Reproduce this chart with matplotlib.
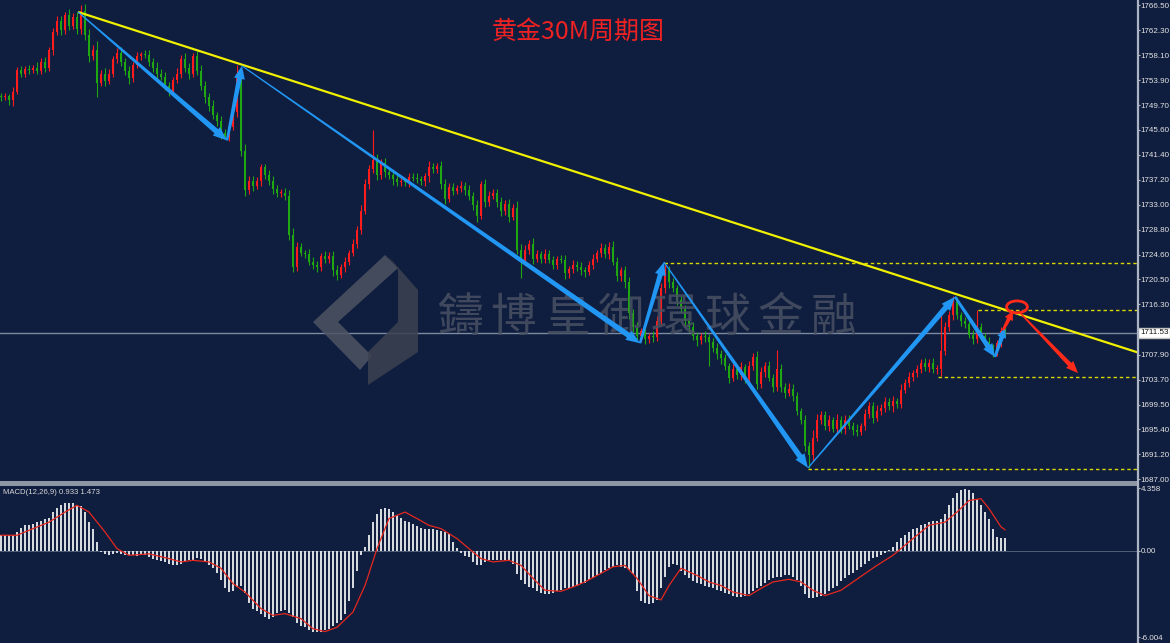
import numpy as np
import matplotlib
matplotlib.use("Agg")
import matplotlib.pyplot as plt
from matplotlib.patches import Polygon, Ellipse, Rectangle
from matplotlib.transforms import IdentityTransform

plt.rcParams['font.family'] = ['DejaVu Sans']
NARROW = ['Liberation Sans', 'DejaVu Sans']

# ---------------- data ----------------
closes = [
    1751.0, 1751.2, 1750.5, 1752.0, 1755.6, 1755.0, 1755.8, 1755.6, 1756.0, 1755.5,
    1757.0, 1756.0, 1759.0, 1762.0, 1763.8, 1762.3, 1764.8, 1763.0, 1764.5, 1762.5,
    1765.5, 1761.5, 1758.0, 1759.0, 1753.5, 1755.0, 1753.8, 1755.0, 1757.5, 1758.5,
    1757.0, 1755.5, 1754.2, 1756.5, 1758.0, 1758.3, 1758.2, 1757.0, 1756.0, 1755.0,
    1754.5, 1753.0, 1752.0, 1754.0, 1755.0, 1757.5, 1756.0, 1755.0, 1758.0, 1755.5,
    1753.0, 1751.0, 1749.5, 1748.0, 1747.0, 1745.0, 1744.3, 1746.0, 1748.5, 1755.0,
    1742.0, 1735.5, 1737.0, 1736.2, 1737.0, 1739.3, 1738.0, 1737.0, 1735.7, 1735.0,
    1735.0, 1734.5, 1728.0, 1722.5, 1726.0, 1725.0, 1724.8, 1723.5, 1723.0, 1722.5,
    1724.5, 1724.0, 1724.5, 1722.0, 1721.3, 1722.5, 1723.5, 1725.0, 1726.5, 1728.8,
    1732.0, 1736.5, 1739.0, 1740.5, 1738.0, 1740.0, 1738.5, 1738.0, 1737.3, 1736.8,
    1737.0, 1736.8, 1737.7, 1737.5, 1737.3, 1737.0, 1737.8, 1739.4, 1739.0, 1739.5,
    1736.5, 1734.0, 1736.0, 1735.3, 1735.8, 1736.2, 1735.5, 1734.5, 1733.0, 1731.2,
    1736.5, 1733.5, 1734.5, 1735.0, 1733.5, 1732.0, 1733.2, 1731.0, 1732.5, 1725.5,
    1723.8, 1725.5, 1726.5, 1724.0, 1724.8, 1724.0, 1724.8, 1723.8, 1723.0, 1724.0,
    1723.8, 1721.5, 1722.3, 1723.0, 1722.5, 1722.0, 1721.8, 1723.0, 1724.0, 1725.0,
    1725.8, 1724.8, 1726.0, 1723.5, 1721.0, 1722.0, 1720.0, 1714.9, 1712.5, 1711.0,
    1711.8, 1710.5, 1711.0, 1710.8, 1713.5, 1719.0, 1722.0, 1720.0, 1719.0, 1717.0,
    1715.5, 1713.5, 1712.5, 1711.0, 1710.3, 1711.0, 1710.8, 1710.0, 1709.0, 1708.0,
    1707.3, 1706.0, 1704.0, 1705.5, 1704.5, 1705.8, 1703.8, 1706.0, 1707.5, 1703.0,
    1705.0, 1706.0, 1704.0, 1702.5, 1705.5, 1702.5, 1701.5, 1702.2, 1701.0, 1698.5,
    1697.0, 1692.5, 1691.0, 1694.0, 1697.0, 1697.8, 1696.0, 1697.0, 1695.5, 1697.0,
    1695.5, 1697.0, 1696.0, 1695.3, 1695.0, 1696.0, 1698.0, 1699.3, 1697.3, 1698.5,
    1699.0, 1700.0, 1699.2, 1700.2, 1699.7, 1702.0, 1703.2, 1704.2, 1704.8, 1705.5,
    1706.5, 1705.8, 1706.5, 1705.5, 1705.5, 1708.5, 1712.5, 1714.5, 1716.8, 1714.5,
    1713.5, 1713.0, 1711.2, 1710.5, 1712.5, 1711.0, 1710.0, 1709.2, 1708.3, 1709.8,
    1711.8, 1711.5,
]
first_open = 1751.3

upper_wick = [
    0.5, 0.6, 0.4, 0.8, 0.5, 0.7, 0.4, 0.6, 0.5, 0.9,
    0.6, 0.8, 0.5, 0.7, 0.9, 0.8, 0.6, 1.0, 0.7, 0.9,
    1.0, 1.2, 0.9, 0.8, 1.4, 0.6, 0.9, 0.7, 0.5, 0.8,
    0.9, 0.6, 0.8, 0.5, 0.7, 0.4, 0.6, 0.8, 0.6, 0.9,
    0.7, 0.8, 0.6, 0.5, 0.9, 0.6, 1.0, 0.7, 0.5, 0.8,
    0.9, 0.7, 0.8, 1.0, 0.6, 0.9, 0.7, 0.6, 0.8, 1.5,
    0.5, 1.2, 0.8, 0.9, 0.7, 0.6, 0.5, 0.8, 0.9, 0.7,
    0.6, 0.8, 1.0, 1.2, 0.7, 0.6, 0.5, 0.8, 0.7, 0.6,
    0.5, 0.7, 0.6, 0.8, 0.9, 0.6, 0.7, 0.5, 0.8, 0.6,
    0.9, 0.8, 0.7, 5.1, 1.0, 0.7, 0.9, 0.6, 0.5, 0.7,
    0.6, 0.5, 0.7, 0.6, 0.8, 0.5, 0.6, 1.0, 0.7, 0.6,
    0.8, 0.9, 0.7, 0.6, 0.5, 0.8, 0.7, 0.9, 0.6, 0.8,
    0.5, 0.9, 0.8, 0.6, 0.7, 0.9, 0.6, 0.8, 0.7, 1.2,
    1.0, 0.8, 0.6, 0.9, 0.7, 0.5, 0.8, 0.6, 0.7, 0.5,
    0.6, 0.8, 0.5, 0.7, 0.6, 0.9, 0.5, 0.6, 0.7, 0.5,
    0.8, 0.6, 0.8, 0.9, 0.7, 0.6, 0.8, 0.9, 0.7, 0.8,
    0.6, 0.7, 0.5, 0.8, 0.9, 0.9, 1.3, 0.8, 0.7, 0.6,
    0.8, 0.7, 0.6, 0.9, 0.7, 0.5, 0.8, 0.6, 0.7, 0.8,
    0.6, 0.7, 0.5, 0.8, 0.6, 0.9, 0.5, 0.8, 0.7, 1.0,
    0.8, 0.6, 0.9, 0.7, 3.2, 0.8, 0.6, 0.9, 0.7, 0.6,
    0.5, 0.7, 0.8, 1.2, 0.9, 0.7, 0.6, 0.8, 0.5, 0.9,
    0.6, 0.8, 0.7, 0.6, 0.9, 0.5, 0.8, 0.7, 0.6, 0.9,
    0.7, 0.8, 0.6, 0.7, 0.5, 0.9, 0.6, 0.8, 0.5, 0.7,
    0.6, 0.8, 0.7, 0.9, 0.6, 6.5, 0.9, 0.7, 1.0, 0.8,
    0.6, 0.7, 0.8, 0.9, 2.9, 0.7, 0.6, 0.8, 0.5, 0.6,
    0.7, 0.5,
]
lower_wick = [
    0.6, 0.5, 0.8, 1.0, 0.4, 0.6, 0.5, 0.7, 0.5, 0.6,
    0.5, 0.7, 0.6, 0.8, 0.5, 0.9, 0.6, 0.7, 0.5, 0.8,
    0.9, 0.8, 1.0, 0.7, 2.5, 0.6, 0.9, 0.5, 0.6, 0.7,
    0.8, 0.7, 0.9, 0.6, 0.5, 0.7, 0.6, 0.8, 0.7, 0.9,
    0.6, 0.8, 0.7, 0.5, 0.6, 0.8, 0.7, 0.9, 0.6, 0.8,
    0.7, 0.9, 0.8, 0.6, 0.7, 0.9, 0.3, 0.6, 0.5, 0.7,
    0.8, 1.0, 0.7, 0.9, 0.6, 0.8, 0.7, 0.6, 0.9, 0.7,
    0.6, 0.7, 0.9, 0.8, 0.6, 0.5, 0.7, 0.6, 0.8, 0.7,
    0.6, 0.8, 0.7, 0.9, 0.9, 0.6, 0.7, 0.5, 0.6, 0.8,
    0.7, 0.6, 0.8, 0.7, 0.9, 0.6, 0.8, 0.7, 0.9, 0.6,
    0.7, 0.6, 0.8, 0.5, 0.7, 0.6, 0.8, 0.9, 0.6, 0.7,
    0.9, 0.8, 0.6, 0.7, 0.5, 0.6, 0.8, 0.7, 0.9, 1.0,
    0.6, 0.8, 0.7, 0.6, 0.9, 0.8, 0.7, 0.9, 0.6, 0.8,
    3.0, 0.7, 0.8, 0.9, 0.6, 0.8, 0.7, 0.6, 0.8, 0.7,
    0.6, 0.9, 0.7, 0.8, 0.6, 0.7, 0.9, 0.6, 0.7, 0.6,
    0.8, 0.7, 0.9, 0.6, 0.8, 0.7, 0.9, 1.0, 0.8, 0.7,
    0.9, 0.8, 0.7, 0.8, 0.6, 0.7, 0.8, 0.9, 0.6, 0.8,
    0.7, 0.9, 0.8, 0.6, 0.9, 0.7, 0.8, 4.0, 0.7, 0.8,
    0.9, 0.7, 0.8, 0.6, 0.7, 0.8, 0.6, 0.9, 0.7, 0.8,
    0.7, 0.9, 0.6, 0.8, 0.7, 0.9, 0.8, 0.6, 0.9, 0.8,
    0.7, 0.8, 2.1, 0.9, 0.6, 0.8, 0.7, 0.9, 0.6, 0.8,
    0.7, 0.9, 0.6, 0.8, 0.7, 0.6, 0.8, 0.7, 0.9, 0.6,
    0.8, 0.7, 0.6, 0.9, 0.7, 0.8, 0.6, 0.7, 0.8, 0.6,
    0.7, 0.6, 0.8, 0.7, 0.9, 1.2, 0.7, 0.6, 0.8, 0.7,
    0.8, 0.7, 0.6, 0.8, 0.7, 0.6, 0.8, 0.7, 0.8, 0.6,
    0.7, 0.6,
]

macd_hist = [
    1.1, 1.1, 1.1, 1.1, 1.3, 1.6, 1.8, 1.8, 1.9, 2.0,
    2.1, 2.2, 2.3, 2.7, 2.95, 3.2, 3.3, 3.3, 3.3, 3.2,
    3.1, 2.7, 2.0, 1.5, 0.6, -0.1, -0.2, -0.25, -0.2, -0.15,
    -0.2, -0.25, -0.3, -0.3, -0.35, -0.3, -0.3, -0.4, -0.55, -0.65,
    -0.7, -0.8, -0.9, -1.0, -1.0, -0.9, -0.7, -0.65, -0.6, -0.5,
    -0.55, -0.7, -1.0, -1.2, -1.5, -2.0, -2.6, -2.85, -2.8, -2.5,
    -2.4, -2.9, -3.6, -4.0, -4.2, -4.4, -4.6, -4.7, -4.6, -4.3,
    -4.2, -4.1, -4.3, -4.6, -5.0, -5.2, -5.3, -5.5, -5.6, -5.6,
    -5.6, -5.5, -5.4, -5.2, -5.0, -4.8, -4.4, -3.5, -2.6, -1.4,
    -0.3, 0.3, 1.1, 2.0, 2.6, 2.9, 2.95, 2.9, 2.7, 2.5,
    2.3, 2.1, 2.0, 1.9, 1.7, 1.6, 1.5, 1.55, 1.5, 1.45,
    1.4, 1.3, 1.2, 0.6, 0.2, -0.15, -0.35, -0.45, -0.8, -1.0,
    -1.0, -0.8, -0.65, -0.6, -0.6, -0.65, -0.6, -0.65, -0.9, -1.6,
    -2.0, -2.3, -2.5, -2.6, -2.8, -2.9, -3.0, -3.0, -2.95, -2.8,
    -2.7, -2.6, -2.6, -2.5, -2.4, -2.3, -2.2, -2.0, -1.9, -1.7,
    -1.5, -1.3, -1.2, -1.1, -1.0, -1.1, -1.2, -1.3, -1.6, -2.8,
    -3.5, -3.6, -3.7, -3.6, -3.4, -2.6, -1.8, -1.1, -0.9, -1.0,
    -1.4, -1.7, -1.9, -2.1, -2.2, -2.3, -2.4, -2.5, -2.6, -2.7,
    -2.8, -2.9, -3.0, -3.1, -3.2, -3.2, -3.1, -3.0, -2.8, -2.6,
    -2.4, -2.2, -2.0, -1.9, -1.8, -1.8, -1.7, -1.7, -1.8, -2.0,
    -2.4, -3.0, -3.3, -3.3, -3.2, -3.1, -3.0, -2.8, -2.6, -2.4,
    -2.1, -1.9, -1.7, -1.5, -1.3, -1.1, -0.9, -0.7, -0.5, -0.4,
    -0.3, -0.15, 0.1, 0.3, 0.6, 0.9, 1.1, 1.3, 1.5, 1.6,
    1.8, 1.9, 2.0, 2.1, 2.1, 2.2, 2.6, 3.2, 3.7, 4.0,
    4.2, 4.3, 4.2, 4.0, 3.6, 3.2, 2.7, 2.2, 1.5, 1.0,
    0.9, 0.93,
]

signal_bar = [0, 4, 8, 12, 16, 19, 22, 26, 29, 32, 37, 42, 45, 48, 52, 55, 58, 61, 65, 68,
              71, 75, 78, 81, 84, 88, 91, 94, 97, 101, 104, 107, 110, 114, 117, 120, 123, 127,
              130, 133, 136, 140, 143, 146, 149, 153, 156, 159, 162, 165, 167, 170, 174, 177,
              180, 183, 187, 190, 193, 197, 200, 203, 206, 210, 213, 216, 219, 223, 226, 229,
              232, 236, 239, 242, 245, 247, 250, 251]
signal_val = [1.09, 1.09, 1.55, 2.0, 2.7, 3.17, 2.7, 1.32, 0.16, -0.3, -0.2, -0.53, -0.76, -0.65,
              -0.76, -1.2, -2.27, -2.85, -4.0, -4.47, -4.35, -4.7, -5.4, -5.6, -5.3, -4.24, -2.4,
              0.16, 2.25, 2.7, 2.25, 1.78, 1.55, 0.86, 0.16, -0.53, -0.76, -0.65, -1.0, -1.9,
              -2.73, -2.8, -2.5, -2.15, -1.7, -1.1, -1.0, -1.9, -3.1, -3.4, -2.4, -1.2, -1.7,
              -2.15, -2.4, -2.85, -3.1, -2.6, -2.15, -1.97, -2.15, -2.73, -3.1, -2.73, -2.15,
              -1.57, -1.0, -0.3, 0.4, 1.09, 1.78, 2.0, 2.7, 3.5, 3.63, 2.94, 1.67, 1.473]

price_ticks = [1766.50, 1762.30, 1758.10, 1753.90, 1749.70, 1745.60, 1741.40, 1737.20, 1733.00,
               1728.80, 1724.60, 1720.50, 1716.30, 1712.10, 1707.90, 1703.70, 1699.50, 1695.40,
               1691.20, 1687.00]
macd_ticks = [4.358, 0.0, -6.004]
macd_tick_labels = ["4.358", "0.00", "-6.004"]
current_price = 1711.53
macd_label = "MACD(12,26,9) 0.933 1.473"
title_text = "黄金30M周期图"
watermark_chars = ["鑄", "博", "皇", "御", "環", "球", "金", "融"]

# annotation anchors (bar index, price)
trend_start = (19.25, 1765.33)
trend_end = (284.0, 1708.3)
blue_path = [(19.25, 1765.33), (56.5, 1743.8), (60.25, 1756.3), (159.75, 1709.8),
             (165.75, 1723.4), (201.75, 1688.9), (238.5, 1717.6), (248.5, 1707.5), (251.0, 1712.4)]
red_arrows = [((250.5, 1712.0), (253.0, 1715.2)), ((254.75, 1714.9), (269.25, 1704.8))]
levels = [(165.75, 1723.3), (244.25, 1715.4), (234.25, 1704.2), (201.75, 1688.8)]

assert len(closes) == len(upper_wick) == len(lower_wick) == len(macd_hist) == 252
assert len(signal_bar) == len(signal_val)

# ---------------- figure ----------------
W, H = 1170, 643
BG = '#0f1d3e'
fig = plt.figure(figsize=(W / 100, H / 100), dpi=100, facecolor=BG)

axR = 1137 / W
ax = fig.add_axes([0, 1 - 481 / H, axR, 481 / H], facecolor=BG)
ax2 = fig.add_axes([0, 0, axR, (H - 486) / H], facecolor=BG)

n = len(closes)
idx = np.arange(n)
c = np.array(closes)
o = np.concatenate([[first_open], c[:-1]])
hi = np.maximum(o, c) + np.array(upper_wick)
lo = np.minimum(o, c) - np.array(lower_wick)
up = c >= o
RED = '#ff1c1c'
GREEN = '#1fa812'
cols = [RED if u else GREEN for u in up]

ax.set_xlim(-0.25, 284.0)
ax.set_ylim(1686.71, 1767.34)
ax2.set_xlim(-0.25, 284.0)
ax2.set_ylim(-6.39, 4.51)

ax.vlines(idx, lo, hi, colors=cols, linewidth=0.8, zorder=3)
body = np.abs(c - o)
body = np.where(body < 0.15, 0.15, body)
ax.bar(idx, body, bottom=np.minimum(o, c), width=0.72, color=cols, linewidth=0, zorder=4)

# current price line
ax.axhline(current_price, color='#7d8aa0', linewidth=1.0, zorder=2)

# dotted levels
for x0, lv in levels:
    ax.plot([x0, 284.0], [lv, lv], color='#d8d800', linewidth=1.0, linestyle=(0, (2.5, 2.0)), zorder=5)

# yellow trend line (extended)
slope = (trend_end[1] - trend_start[1]) / (trend_end[0] - trend_start[0])
ax.plot([trend_start[0], 290], [trend_start[1], trend_start[1] + slope * (290 - trend_start[0])],
        color='#f0f000', linewidth=1.6, zorder=6, solid_capstyle='butt')

# tapered arrows
fig.canvas.draw()


def tapered(p0, p1, color, w0=1.4, w1=5.0, hw=11.0, hl=14.0):
    a = ax.transData.transform(p0)
    b = ax.transData.transform(p1)
    d = b - a
    L = np.hypot(*d)
    u = d / L
    nrm = np.array([-u[1], u[0]])
    base = b - u * hl
    pts = [a + nrm * w0 / 2, base + nrm * w1 / 2, base + nrm * hw / 2, b,
           base - nrm * hw / 2, base - nrm * w1 / 2, a - nrm * w0 / 2]
    poly = Polygon(pts, closed=True, facecolor=color, edgecolor='none',
                   transform=IdentityTransform(), zorder=8)
    poly.set_clip_box(ax.bbox)
    fig.patches.append(poly)
    poly.set_figure(fig)


BLUE = '#2196f3'
for k in range(len(blue_path) - 1):
    p0, p1 = blue_path[k], blue_path[k + 1]
    seglen = np.hypot(*(ax.transData.transform(p1) - ax.transData.transform(p0)))
    if seglen < 40:
        tapered(p0, p1, BLUE, w0=2.5, w1=4.5, hw=9.0, hl=10.0)
    elif seglen < 110:
        tapered(p0, p1, BLUE, w0=2.5, w1=5.0, hw=11.0, hl=13.0)
    else:
        tapered(p0, p1, BLUE, w0=1.2, w1=5.5, hw=11.0, hl=14.0)

REDA = '#ff2a1a'
tapered(red_arrows[0][0], red_arrows[0][1], REDA, w0=2.5, w1=4.0, hw=9.0, hl=9.0)
tapered(red_arrows[1][0], red_arrows[1][1], REDA, w0=1.5, w1=4.5, hw=10.0, hl=12.0)
ax.add_patch(Ellipse((254.0, 1715.9), width=5.2, height=2.0, fill=False, edgecolor=REDA,
                     linewidth=2.0, zorder=9))

# axes styling
for a_ in (ax, ax2):
    for s in a_.spines.values():
        s.set_visible(False)
    a_.tick_params(axis='x', bottom=False, labelbottom=False)
    a_.yaxis.tick_right()
    a_.tick_params(axis='y', direction='out', length=2.0, width=0.8, color='#b8c0cc',
                   labelsize=5.8, labelcolor='#e4e4e4', pad=0.8)

ax.set_yticks(price_ticks)
ax.set_yticklabels([("" if abs(t - 1712.10) < 0.01 else f"{t:.2f}") for t in price_ticks],
                   family=NARROW)
ax2.set_yticks(macd_ticks)
ax2.set_yticklabels(macd_tick_labels, family=NARROW)

# right axis line
fig.add_artist(plt.Line2D([axR + 0.5 / W, axR + 0.5 / W], [0, 1], color='#aab4c2', linewidth=1.6))
# separator between panes
fig.add_artist(Rectangle((0, 1 - 486 / H), axR, 5 / H, facecolor='#8c96a4', edgecolor='none'))

# price box
ax.text(1.0 + 3 / 1137, current_price, f"{current_price:.2f}", transform=ax.get_yaxis_transform(),
        fontsize=5.8, color='#101010', va='center', ha='left', zorder=10, family=NARROW,
        bbox=dict(boxstyle='square,pad=0.2', facecolor='white', edgecolor='#c0c0c0'), clip_on=False)

# MACD pane
ax2.axhline(0, color='#6d7a90', linewidth=0.5, zorder=1)
ax2.bar(idx, macd_hist, width=0.62, color='#d6d9de', linewidth=0, zorder=2)
ax2.plot(signal_bar, signal_val, color='#e5281e', linewidth=0.9, zorder=3)
ax2.text(3 / 1137, 1 - 3 / 157, macd_label, transform=ax2.transAxes, fontsize=5.6,
         color='#d8d8d8', va='top', ha='left', family=NARROW)

# watermark (logo + text)
def px(x, y):
    return (x / W, 1 - y / H)

logo_a = [px(313, 322), px(385, 255), px(398, 268), px(338, 322), px(372, 356), px(360, 370)]
logo_b = [px(388, 256), px(418, 290), px(418, 352), px(368, 385), px(368, 352), px(398, 322), px(398, 270)]
fig.add_artist(Polygon(logo_a, closed=True, facecolor='#4e5462', edgecolor='none', alpha=0.85, zorder=1))
fig.add_artist(Polygon(logo_b, closed=True, facecolor='#3c4250', edgecolor='none', alpha=0.85, zorder=1))
for k, ch in enumerate(watermark_chars):
    xk, yk = px(460 + 53.4 * k, 318)
    fig.text(xk, yk, ch, fontsize=33, color='#485062', alpha=0.85, ha='center', va='center',
             family=['Noto Sans CJK TC', 'DejaVu Sans'], zorder=1)

# title
tx, ty = px(578, 32)
fig.text(tx, ty, title_text, fontsize=18, color='#ee2222', ha='center', va='center',
         family=['Noto Sans CJK SC', 'DejaVu Sans'])

fig.savefig('out.png', dpi=100, facecolor=BG)
